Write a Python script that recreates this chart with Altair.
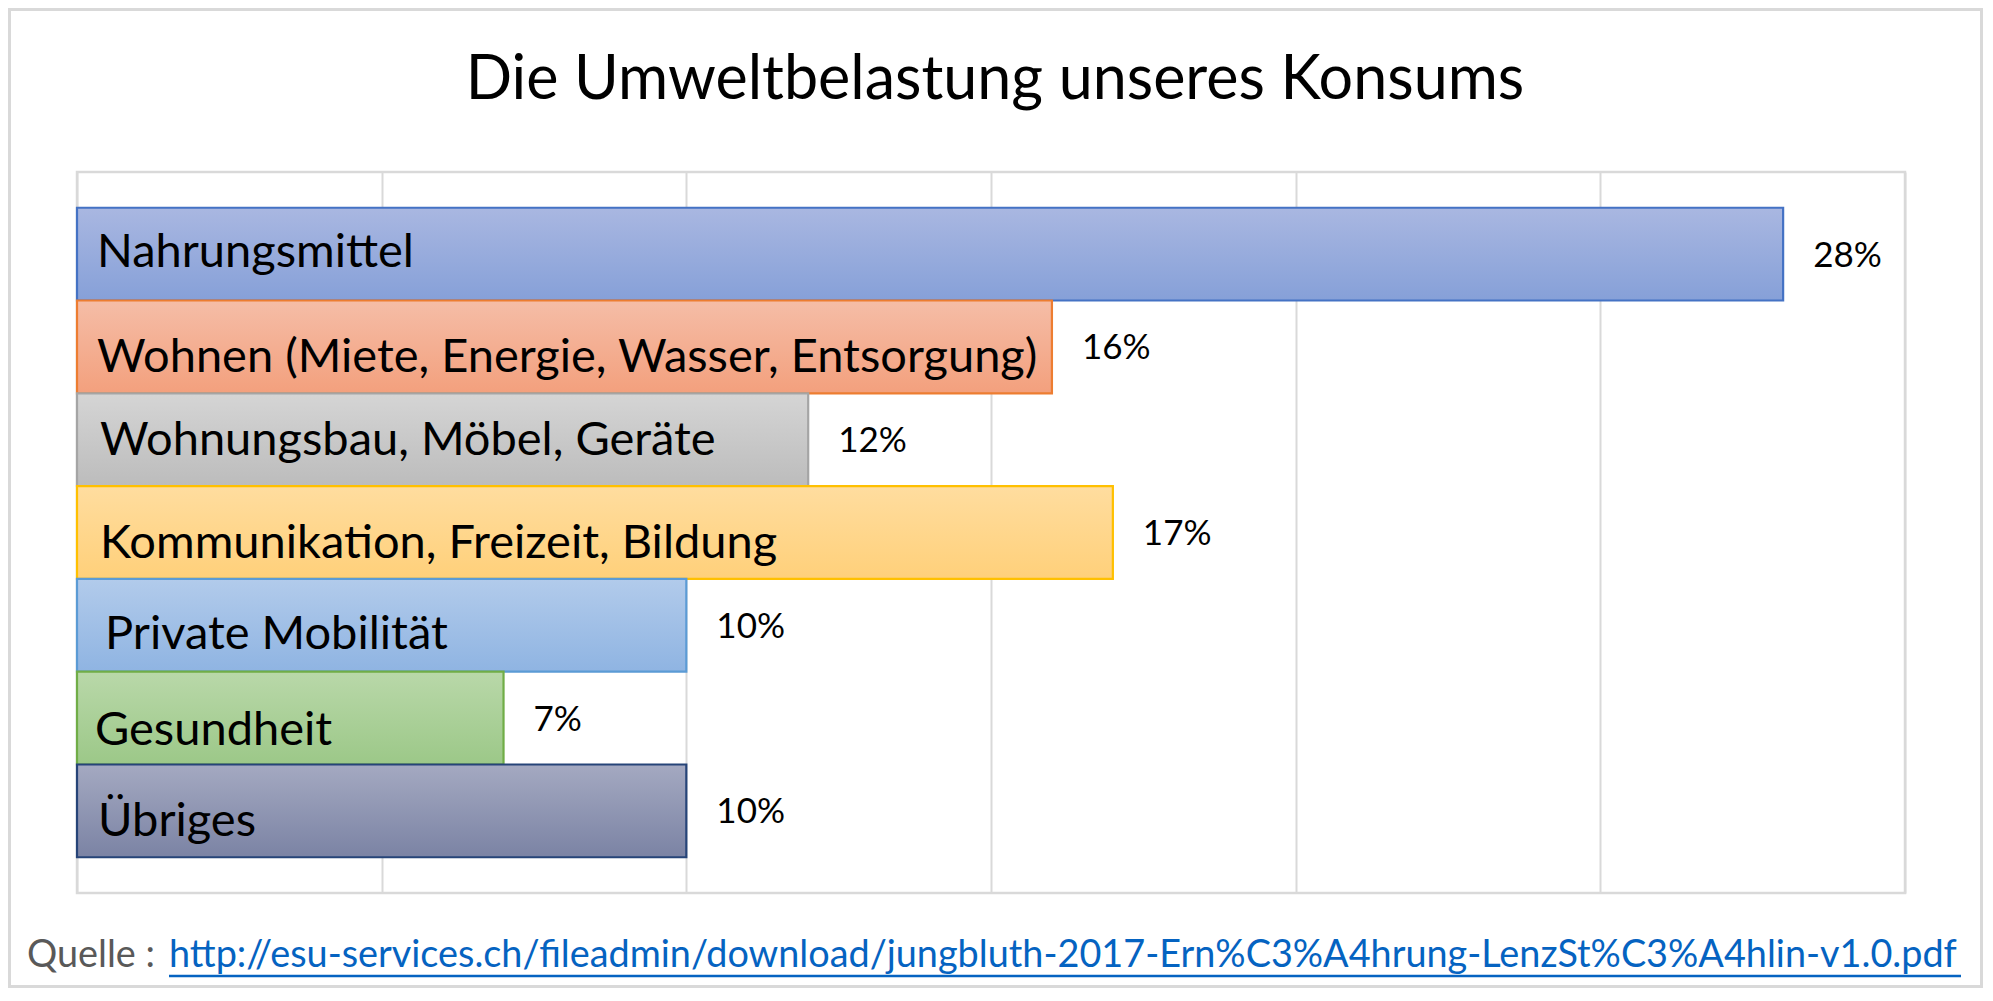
import altair as alt
import pandas as pd

# ---- data ----
categories = [
    "Nahrungsmittel",
    "Wohnen (Miete, Energie, Wasser, Entsorgung)",
    "Wohnungsbau, Möbel, Geräte",
    "Kommunikation, Freizeit, Bildung",
    "Private Mobilität",
    "Gesundheit",
    "Übriges",
]
values = [28, 16, 12, 17, 10, 7, 10]
value_labels = ["28%", "16%", "12%", "17%", "10%", "7%", "10%"]
x_ticks = [0, 5, 10, 15, 20, 25, 30]
title_text = "Die Umweltbelastung unseres Konsums"
source_prefix = "Quelle :"
source_url = "http://esu-services.ch/fileadmin/download/jungbluth-2017-Ern%C3%A4hrung-LenzSt%C3%A4hlin-v1.0.pdf"

df = pd.DataFrame({"cat": categories, "val": values, "label": value_labels})

# ---- styles ----
fill_top = ["#a9b7e1", "#f5bda7", "#d5d5d5", "#ffdd9f", "#b2cbeb", "#b9d8a9", "#a4a9c1"]
fill_bottom = ["#86a0d8", "#f3a07d", "#bcbcbc", "#ffd07a", "#8fb4e2", "#9cc888", "#7b83a4"]
strokes = ["#4472c4", "#ed7d31", "#a5a5a5", "#ffc000", "#5b9bd5", "#70ad47", "#264478"]
label_x = [20, 20, 23, 23, 28, 18, 21]
label_dy = [12.5, 25, 15, 25.5, 24, 26.5, 25.5]

FONT = "Lato"
W, H = 1828, 721
PAD = {"left": 69, "top": 164, "right": 78, "bottom": 95}

x_scale = alt.Scale(domain=[0, 30], nice=False, zero=True)
y_scale = alt.Scale(domain=categories, paddingInner=0, paddingOuter=0.385)
x_axis = alt.Axis(values=x_ticks, labels=False, ticks=False, domain=False, grid=True,
                  gridColor="#d9d9d9", gridWidth=2, title=None)

grid = alt.Chart(df).mark_bar(opacity=0).encode(
    x=alt.X("val:Q", scale=x_scale, axis=x_axis),
    y=alt.Y("cat:N", scale=y_scale, axis=None),
)

layers = [grid]
for i, c in enumerate(categories):
    grad = alt.Gradient(
        gradient="linear",
        stops=[alt.GradientStop(color=fill_top[i], offset=0),
               alt.GradientStop(color=fill_bottom[i], offset=1)],
        x1=0, x2=0, y1=0, y2=1,
    )
    bar = alt.Chart(df).transform_filter(alt.datum.cat == c).mark_bar(
        fill=grad, stroke=strokes[i], strokeWidth=2.2
    ).encode(
        x=alt.X("val:Q", scale=x_scale, axis=x_axis),
        y=alt.Y("cat:N", scale=y_scale, axis=None),
    )
    txt = alt.Chart(df).transform_filter(alt.datum.cat == c).mark_text(
        font=FONT, fontSize=47, align="left", baseline="alphabetic", dy=label_dy[i], color="#000000"
    ).encode(
        x=alt.value(label_x[i]),
        y=alt.Y("cat:N", scale=y_scale, axis=None),
        text="cat:N",
    )
    layers += [bar, txt]

vals = alt.Chart(df).mark_text(
    font=FONT, fontSize=35, align="left", baseline="alphabetic", dx=30, dy=12.5, color="#000000"
).encode(
    x=alt.X("val:Q", scale=x_scale, axis=x_axis),
    y=alt.Y("cat:N", scale=y_scale, axis=None),
    text="label:N",
)

meta = pd.DataFrame({"title": [title_text], "prefix": [source_prefix], "url": [source_url]})
title = alt.Chart(meta).mark_text(
    font=FONT, fontSize=61, align="center", baseline="alphabetic", color="#000000"
).encode(text="title:N", x=alt.value(918), y=alt.value(-73))
prefix = alt.Chart(meta).mark_text(
    font=FONT, fontSize=37.8, align="left", baseline="alphabetic", color="#595959"
).encode(text="prefix:N", x=alt.value(-50), y=alt.value(795))
url = alt.Chart(meta).mark_text(
    font=FONT, fontSize=37.8, align="left", baseline="alphabetic", color="#0563c1"
).encode(text="url:N", x=alt.value(92), y=alt.value(795))
underline = alt.Chart(meta).mark_rule(color="#0563c1", strokeWidth=2.5).encode(
    x=alt.value(92), x2=alt.value(1884), y=alt.value(804)
)
border = alt.Chart(meta).mark_rect(fill="white", fillOpacity=0, stroke="#d9d9d9", strokeWidth=3).encode(
    x=alt.value(-PAD["left"] + 1.5), x2=alt.value(W + PAD["right"] - 1.5),
    y=alt.value(-PAD["top"] + 1.5), y2=alt.value(H + PAD["bottom"] - 1.5),
)

chart = alt.layer(*layers, vals, title, prefix, url, underline, border).properties(
    width=W, height=H,
    autosize=alt.AutoSizeParams(type="none"),
    padding=PAD,
    background="white",
).configure_view(stroke="#d9d9d9", strokeWidth=2.5)

chart.save("out.html", embed_options={"renderer": "svg", "actions": False})
